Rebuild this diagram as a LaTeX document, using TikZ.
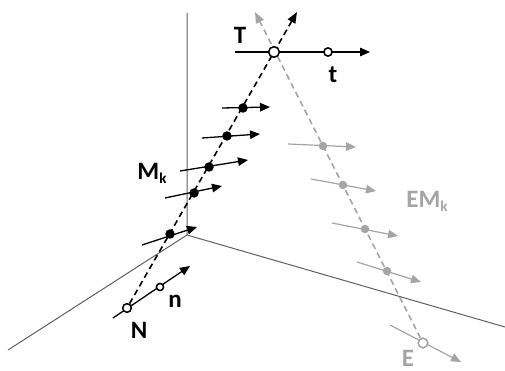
\documentclass[tikz,border=0pt]{standalone}
\usepackage{fontspec}
\setmainfont{Carlito}
\usetikzlibrary{arrows.meta}
\definecolor{lgray}{RGB}{165,165,165}
\definecolor{axgray}{RGB}{95,95,95}
\begin{document}
\begin{tikzpicture}[x=1pt,y=-1pt,
  axis/.style={axgray, line width=1pt},
  vec/.style={line width=1.3pt, -{Triangle[length=10pt,width=8.5pt]}},
  gvec/.style={lgray, line width=1.2pt, -{Triangle[length=10pt,width=8.5pt]}},
  traj/.style={line width=1.6pt, dash pattern=on 6pt off 4pt, -{Triangle[length=11pt,width=8.5pt]}},
  gtraj/.style={lgray, line width=1.6pt, dash pattern=on 6pt off 4pt, -{Triangle[length=11pt,width=8.5pt]}},
  dot/.style={circle, fill, inner sep=0pt, minimum size=9.5pt},
  gdot/.style={circle, fill=lgray, inner sep=0pt, minimum size=8.5pt},
  ring/.style={circle, draw, fill=white, line width=1.4pt, inner sep=0pt, minimum size=#1},
  gring/.style={circle, draw=lgray, fill=white, line width=1.4pt, inner sep=0pt, minimum size=#1},
  lbl/.style={font=\bfseries\fontsize{25}{25}\selectfont, inner sep=0pt},
]
\newcommand{\subk}{{\fontsize{15}{15}\selectfont\raisebox{-4pt}{k}}}
\useasboundingbox (0,0) rectangle (505,371);
% axes
\coordinate (O) at (187,235);
\coordinate (Az) at (187,13);
\coordinate (Ax) at (8,350);
\coordinate (Ay) at (505,327);
\draw[axis] (Az) -- (O) -- (Ax);
\draw[axis] (O) -- (Ay);
% key points
\node[ring=8.5pt] (N) at (127,308) {};
\node[ring=7pt] (n) at (160,287) {};
\node[ring=10.5pt] (T) at (274,52) {};
\node[ring=8pt] (t) at (328,52) {};
\node[gring=9.5pt] (E) at (423,343) {};
\coordinate (Btip) at (297,12);
\coordinate (Gtip) at (255,12);
% trajectories
\draw[gtraj] (E) -- (Gtip);
\draw[traj] (N) -- (Btip);
% N / T arrows
\coordinate (ns) at (113,318);
\coordinate (ne) at (190,266);
\coordinate (ts) at (235,52);
\coordinate (te) at (370,52);
\draw[vec] (ns) -- (ne);
\draw[vec] (ts) -- (te);
% E arrow
\coordinate (es) at (390,325);
\coordinate (ee) at (461,362);
\draw[gvec] (es) -- (ee);
% Mk arrows
\foreach \i/\dx/\dy/\sx/\sy/\ex/\ey in {1/243/108/222/108/270/107, 2/227/136/202/138/260/134, 3/209/167/180/171/248/160, 4/194/193/165/198/222/186, 5/170/234/142/245/197/227}{
  \coordinate (ms\i) at (\sx,\sy);
  \coordinate (me\i) at (\ex,\ey);
  \draw[vec] (ms\i) -- (me\i);
  \node[dot] (m\i) at (\dx,\dy) {};
}
% EMk arrows
\foreach \i/\dx/\dy/\sx/\sy/\ex/\ey in {1/323/146/288/144/356/147, 2/343/185/311/179/376/191, 3/365/229/332/223/398/236, 4/387/271/357/262/421/282}{
  \coordinate (gs\i) at (\sx,\sy);
  \coordinate (ge\i) at (\ex,\ey);
  \draw[gvec] (gs\i) -- (ge\i);
  \node[gdot] (g\i) at (\dx,\dy) {};
}
% redraw rings on top
\node[ring=8.5pt] at (N) {};
\node[ring=7pt] at (n) {};
\node[ring=10.5pt] at (T) {};
\node[ring=8pt] at (t) {};
\node[gring=9.5pt] at (E) {};
% labels
\node[lbl] (lT) at (240,35) {T};
\node[lbl] (lt) at (333,75) {t};
\node[lbl] (lM) at (152,173) {M\subk};
\node[lbl] (ln) at (175,301) {n};
\node[lbl] (lN) at (139,330) {N};
\node[lbl, lgray] (lEM) at (427,201) {EM\subk};
\node[lbl, lgray] (lE) at (408,358) {E};
\end{tikzpicture}
\end{document}
